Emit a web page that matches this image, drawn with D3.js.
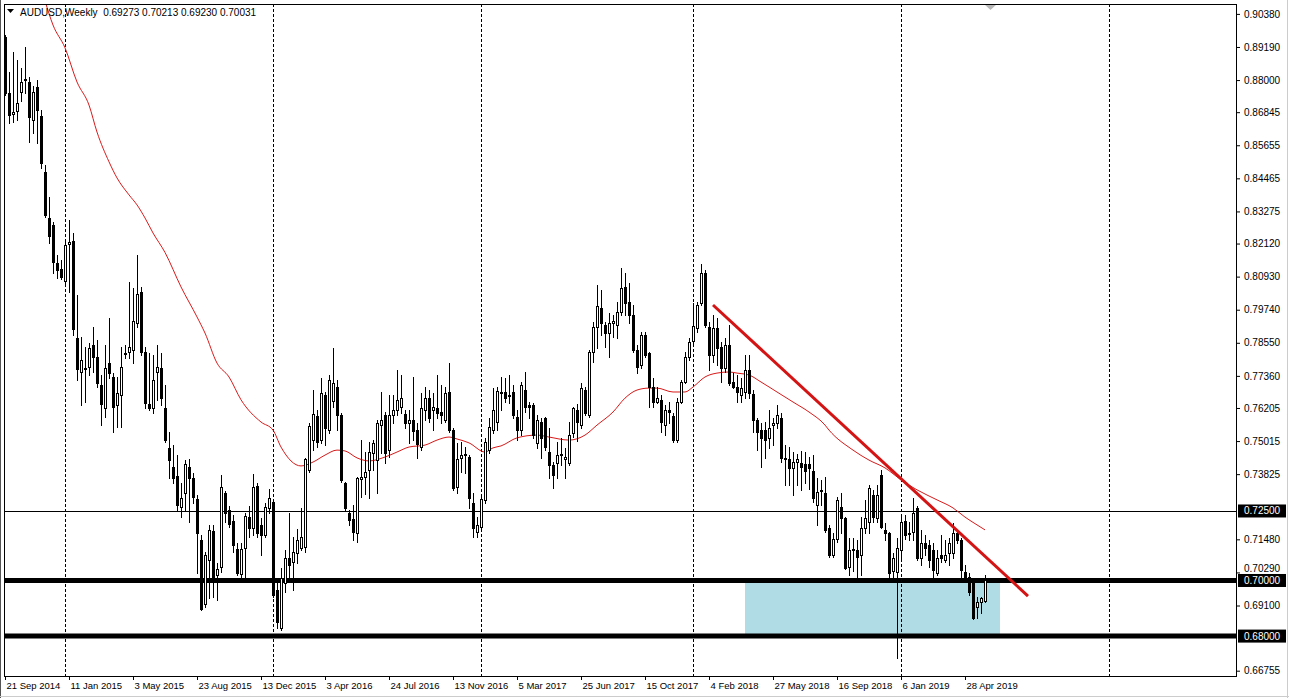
<!DOCTYPE html>
<html><head><meta charset="utf-8">
<script src="https://cdn.jsdelivr.net/npm/d3@7"></script>
<style>
body{margin:0;background:#fff;}
svg{display:block;font-family:"Liberation Sans",Arial,sans-serif;}
</style>
</head><body><svg id="c" width="1289" height="698"></svg>
<script>
// ---------------- DATA ----------------
const symbolName = "AUDUSD,Weekly";
const lastBar = [0.69273, 0.70213, 0.69230, 0.70031];

const opens = [
0.8955,0.8754,0.8677,0.8689,0.8757,0.8800,0.8793,0.8657,0.8775,0.8672,
0.8470,0.8304,0.8279,0.8143,0.8121,0.8078,0.8210,0.8221,0.7872,0.7750,
0.7760,0.7768,0.7847,0.7804,0.7703,0.7620,0.7782,0.7732,0.7631,0.7667,
0.7816,0.7822,0.7829,0.7926,0.8037,0.7822,0.7635,0.7620,0.7750,0.7764,
0.7620,0.7476,0.7408,0.7376,0.7265,0.7315,0.7408,0.7369,0.7293,0.7146,
0.6916,0.7074,0.7178,0.7020,0.7049,0.7315,0.7254,0.7214,0.7114,0.7024,
0.7117,0.7229,0.7189,0.7340,0.7200,0.7164,0.7261,0.7283,0.6966,0.6829,
0.6991,0.7081,0.7067,0.7099,0.7117,0.7121,0.7397,0.7505,0.7592,0.7505,
0.7667,0.7541,0.7645,0.7696,0.7595,0.7351,0.7243,0.7222,0.7171,0.7365,
0.7372,0.7397,0.7458,0.7433,0.7559,0.7595,0.7469,0.7595,0.7613,0.7624,
0.7599,0.7567,0.7577,0.7541,0.7480,0.7613,0.7656,0.7613,0.7620,0.7606,
0.7577,0.7678,0.7541,0.7337,0.7441,0.7451,0.7444,0.7279,0.7175,0.7193,
0.7290,0.7469,0.7541,0.7570,0.7674,0.7678,0.7663,0.7678,0.7588,0.7541,
0.7685,0.7631,0.7631,0.7494,0.7570,0.7584,0.7462,0.7415,0.7423,0.7455,
0.7437,0.7422,0.7530,0.7613,0.7560,0.7685,0.7595,0.7822,0.7912,0.7980,
0.7919,0.7890,0.7926,0.7919,0.7966,0.8056,0.8002,0.7955,0.7829,0.7775,
0.7883,0.7818,0.7696,0.7642,0.7649,0.7559,0.7613,0.7592,0.7505,0.7642,
0.7714,0.7804,0.7862,0.7908,0.7998,0.8106,0.7912,0.7811,0.7908,0.7840,
0.7764,0.7847,0.7714,0.7696,0.7667,0.7678,0.7757,0.7671,0.7577,0.7541,
0.7541,0.7512,0.7559,0.7566,0.7584,0.7441,0.7437,0.7405,0.7426,0.7423,
0.7419,0.7419,0.7394,0.7272,0.7322,0.7315,0.7189,0.7092,0.7150,0.7265,
0.7225,0.7049,0.7110,0.7110,0.7092,0.7189,0.7211,0.7308,0.7225,0.7380,
0.7182,0.7171,0.7035,0.7031,0.7110,0.7215,0.7168,0.7175,0.7261,0.7081,
0.7135,0.7128,0.7110,0.7027,0.7092,0.7074,0.7099,0.7099,0.7171,0.7146,
0.7031,0.7013,0.6995,0.6905,0.6923,0.69273];

const highs = [
0.8962,0.8829,0.8901,0.8873,0.8843,0.8919,0.8811,0.8779,0.8800,0.8692,
0.8495,0.8380,0.8289,0.8171,0.8153,0.8217,0.8297,0.8250,0.8027,0.7876,
0.7840,0.7854,0.7912,0.7865,0.7739,0.7847,0.7944,0.7746,0.7732,0.7840,
0.7847,0.8074,0.8052,0.8171,0.8056,0.7840,0.7818,0.7811,0.7847,0.7818,
0.7703,0.7534,0.7487,0.7451,0.7351,0.7433,0.7437,0.7387,0.7308,0.7164,
0.7103,0.7200,0.7200,0.7063,0.7380,0.7322,0.7268,0.7236,0.7135,0.7135,
0.7243,0.7268,0.7383,0.7351,0.7225,0.7279,0.7329,0.7290,0.7002,0.7045,
0.7110,0.7243,0.7157,0.7186,0.7261,0.7441,0.7567,0.7685,0.7613,0.7728,
0.7678,0.7739,0.7836,0.7721,0.7602,0.7355,0.7254,0.7272,0.7372,0.7505,
0.7462,0.7498,0.7505,0.7577,0.7678,0.7606,0.7667,0.7667,0.7757,0.7739,
0.7613,0.7613,0.7732,0.7567,0.7674,0.7696,0.7685,0.7674,0.7739,0.7703,
0.7696,0.7782,0.7548,0.7494,0.7498,0.7480,0.7451,0.7315,0.7229,0.7300,
0.7512,0.7584,0.7692,0.7696,0.7732,0.7728,0.7740,0.7703,0.7613,0.7714,
0.7750,0.7642,0.7638,0.7595,0.7584,0.7588,0.7548,0.7426,0.7498,0.7512,
0.7476,0.7570,0.7624,0.7635,0.7710,0.7696,0.7829,0.7930,0.8063,0.8045,
0.7930,0.7962,0.7955,0.8002,0.8124,0.8106,0.8070,0.7991,0.7847,0.7894,
0.7894,0.7822,0.7728,0.7696,0.7667,0.7631,0.7642,0.7602,0.7656,0.7721,
0.7822,0.7872,0.7998,0.8002,0.8139,0.8117,0.7930,0.7955,0.7944,0.7858,
0.7872,0.7919,0.7746,0.7739,0.7728,0.7811,0.7811,0.7685,0.7584,0.7566,
0.7570,0.7613,0.7584,0.7631,0.7602,0.7487,0.7480,0.7462,0.7455,0.7466,
0.7462,0.7444,0.7451,0.7369,0.7362,0.7372,0.7200,0.7170,0.7300,0.7315,
0.7230,0.7153,0.7153,0.7146,0.7229,0.7290,0.7344,0.7326,0.7344,0.7398,
0.7207,0.7175,0.7100,0.7153,0.7229,0.7235,0.7211,0.7297,0.7268,0.7182,
0.7164,0.7146,0.7135,0.7110,0.7164,0.7146,0.7153,0.7207,0.7182,0.7153,
0.7056,0.7027,0.7000,0.6941,0.6941,0.70213];

const lows = [
0.8747,0.8646,0.8650,0.8657,0.8725,0.8754,0.8577,0.8610,0.8574,0.8484,
0.8308,0.8214,0.8106,0.8089,0.8085,0.8071,0.8038,0.7883,0.7721,0.7631,
0.7642,0.7739,0.7750,0.7696,0.7559,0.7588,0.7728,0.7534,0.7552,0.7552,
0.7801,0.7801,0.7782,0.7912,0.7811,0.7620,0.7613,0.7602,0.7649,0.7631,
0.7498,0.7369,0.7351,0.7254,0.7229,0.7254,0.7211,0.7279,0.7027,0.6894,
0.6905,0.6937,0.6941,0.6930,0.7031,0.7211,0.7193,0.7103,0.7020,0.7009,
0.7013,0.7157,0.7164,0.7157,0.7092,0.7157,0.7243,0.6941,0.6829,0.6822,
0.6959,0.7002,0.6966,0.7063,0.7110,0.7103,0.7390,0.7469,0.7480,0.7494,
0.7487,0.7530,0.7624,0.7541,0.7355,0.7254,0.7200,0.7146,0.7139,0.7300,
0.7311,0.7297,0.7397,0.7315,0.7458,0.7423,0.7444,0.7567,0.7595,0.7602,
0.7548,0.7494,0.7506,0.7440,0.7469,0.7577,0.7570,0.7541,0.7584,0.7567,
0.7570,0.7534,0.7326,0.7315,0.7390,0.7387,0.7261,0.7157,0.7157,0.7182,
0.7279,0.7458,0.7530,0.7541,0.7613,0.7642,0.7640,0.7584,0.7506,0.7523,
0.7606,0.7584,0.7512,0.7476,0.7441,0.7469,0.7369,0.7333,0.7369,0.7415,
0.7369,0.7415,0.7516,0.7500,0.7549,0.7595,0.7588,0.7786,0.7836,0.7883,
0.7840,0.7804,0.7876,0.7872,0.7955,0.7955,0.7926,0.7822,0.7746,0.7764,
0.7804,0.7624,0.7624,0.7638,0.7534,0.7523,0.7566,0.7498,0.7498,0.7638,
0.7710,0.7793,0.7854,0.7894,0.7991,0.7912,0.7757,0.7786,0.7775,0.7714,
0.7750,0.7703,0.7692,0.7642,0.7642,0.7656,0.7656,0.7534,0.7469,0.7408,
0.7441,0.7476,0.7487,0.7548,0.7426,0.7344,0.7344,0.7308,0.7344,0.7326,
0.7351,0.7330,0.7283,0.7200,0.7272,0.7175,0.7085,0.7085,0.7140,0.7171,
0.7040,0.7020,0.7034,0.7013,0.7020,0.7171,0.7171,0.7211,0.7211,0.7189,
0.7146,0.7013,0.7013,0.6721,0.7074,0.7150,0.7146,0.7146,0.7074,0.7056,
0.7092,0.7049,0.7002,0.7020,0.7067,0.7067,0.7056,0.7081,0.7135,0.7009,
0.6995,0.6948,0.6862,0.6865,0.6883,0.69230];

const closes = [
0.8754,0.8675,0.8685,0.8718,0.8793,0.8804,0.8667,0.8757,0.8693,0.8502,
0.8315,0.8239,0.8146,0.8117,0.8092,0.8207,0.8217,0.7905,0.7761,0.7793,
0.7764,0.7836,0.7804,0.7710,0.7635,0.7764,0.7746,0.7624,0.7674,0.7768,
0.7820,0.7840,0.7933,0.8030,0.7822,0.7638,0.7620,0.7721,0.7768,0.7656,
0.7505,0.7433,0.7369,0.7272,0.7297,0.7419,0.7369,0.7300,0.7171,0.6898,
0.7092,0.7182,0.7013,0.7042,0.7337,0.7243,0.7204,0.7128,0.7027,0.7114,
0.7232,0.7189,0.7337,0.7171,0.7164,0.7265,0.7297,0.6948,0.6851,0.7009,
0.7081,0.7056,0.7103,0.7146,0.7157,0.7437,0.7556,0.7599,0.7498,0.7674,
0.7548,0.7721,0.7710,0.7595,0.7362,0.7261,0.7218,0.7175,0.7369,0.7372,
0.7390,0.7462,0.7494,0.7566,0.7577,0.7458,0.7595,0.7613,0.7649,0.7656,
0.7567,0.7577,0.7538,0.7491,0.7620,0.7656,0.7584,0.7624,0.7602,0.7595,
0.7674,0.7541,0.7333,0.7437,0.7451,0.7455,0.7297,0.7189,0.7200,0.7293,
0.7498,0.7552,0.7613,0.7680,0.7678,0.7656,0.7667,0.7595,0.7541,0.7703,
0.7624,0.7624,0.7523,0.7577,0.7512,0.7480,0.7415,0.7380,0.7451,0.7451,
0.7444,0.7523,0.7620,0.7570,0.7692,0.7602,0.7822,0.7912,0.7987,0.7926,
0.7890,0.7926,0.7933,0.7966,0.8052,0.7998,0.7955,0.7829,0.7768,0.7883,
0.7811,0.7696,0.7642,0.7656,0.7570,0.7613,0.7606,0.7505,0.7642,0.7714,
0.7804,0.7858,0.7916,0.7991,0.8106,0.7919,0.7811,0.7908,0.7836,0.7764,
0.7847,0.7710,0.7696,0.7678,0.7692,0.7757,0.7674,0.7577,0.7534,0.7512,
0.7505,0.7548,0.7566,0.7595,0.7441,0.7437,0.7405,0.7426,0.7437,0.7408,
0.7394,0.7405,0.7297,0.7319,0.7326,0.7182,0.7092,0.7150,0.7290,0.7225,
0.7045,0.7110,0.7114,0.7085,0.7189,0.7225,0.7333,0.7229,0.7308,0.7193,
0.7171,0.7027,0.7080,0.7117,0.7211,0.7165,0.7172,0.7243,0.7081,0.7135,
0.7117,0.7074,0.7038,0.7081,0.7081,0.7092,0.7135,0.7171,0.7146,0.7038,
0.7013,0.6959,0.6865,0.6923,0.6937,0.70031];

// moving average (red line), read at selected bars
const maIndex = [10,12,15,18,21,23,26,28,31,33,35,37,40,44,48,50,53,56,59,64,
67,69,74,77,80,83,85,88,91,95,98,101,105,108,111,113,116,120,122,124,
128,133,136,141,145,148,152,155,158,161,163,167,170,172,175,178,181,183,186,189,
193,197,201,205,206,212,216,220,224,228,233,237,240,243,245];
const maValues = [0.9085,0.8998,0.8916,0.8793,0.8710,0.8613,0.8506,0.8448,0.8387,0.8351,
0.8304,0.8250,0.8180,0.8056,0.7948,0.7890,0.7782,0.7732,0.7650,0.7570,
0.7541,0.7480,0.7412,0.7426,0.7451,0.7469,0.7466,0.7441,0.7430,0.7444,
0.7462,0.7480,0.7487,0.7505,0.7516,0.7509,0.7495,0.7462,0.7477,0.7484,
0.7513,0.7523,0.7516,0.7505,0.7523,0.7559,0.7606,0.7656,0.7685,0.7692,
0.7692,0.7678,0.7678,0.7696,0.7732,0.7746,0.7750,0.7746,0.7739,0.7714,
0.7678,0.7642,0.7606,0.7559,0.7541,0.7469,0.7433,0.7405,0.7362,0.7326,
0.7290,0.7261,0.7228,0.7200,0.7182];

const dateLabels = ["21 Sep 2014","11 Jan 2015","3 May 2015","23 Aug 2015","13 Dec 2015",
"3 Apr 2016","24 Jul 2016","13 Nov 2016","5 Mar 2017","25 Jun 2017","15 Oct 2017",
"4 Feb 2018","27 May 2018","16 Sep 2018","6 Jan 2019","28 Apr 2019"];
const dateLabelIndex = [0,16,32,48,64,80,96,112,128,144,160,176,192,208,224,240];

const priceTicks = [0.90380,0.89190,0.88000,0.86845,0.85655,0.84465,0.83275,0.82120,
0.80930,0.79740,0.78550,0.77360,0.76205,0.75015,0.73825,0.71480,0.70290,0.69100,0.66755];
const markedLevels = [0.72500, 0.70000, 0.68000];
const heavyLevels = [0.70000, 0.68000];

const yearSeparatorIndex = [15, 67, 119, 172, 224, 276];
const zoneIndex = [185, 248.75];
const zonePrices = [0.68, 0.70];
const trendIndex = [177, 255.75];
const trendPrices = [0.7991, 0.6944];

// ---------------- DRAW ----------------
const W = 1289, H = 698, L = 4, R = 1236, T = 4, B = 676;
const svg = d3.select("#c");
const x = d3.scaleLinear().domain([0, 240]).range([5, 965]);
const y = d3.scaleLinear().domain([0.66755, 0.90380]).range([670.7, 13.9]);
const px = v => Math.round(x(v));
const py = v => Math.round(y(v));

svg.append("rect").attr("width", W).attr("height", H).attr("fill", "#fff");
svg.append("defs").append("clipPath").attr("id", "clip")
  .append("rect").attr("x", L).attr("y", T).attr("width", R - L).attr("height", B - T);
const plot = svg.append("g").attr("clip-path", "url(#clip)");

// highlighted zone
plot.append("rect")
  .attr("x", x(zoneIndex[0])).attr("width", x(zoneIndex[1]) - x(zoneIndex[0]))
  .attr("y", y(zonePrices[1])).attr("height", y(zonePrices[0]) - y(zonePrices[1]))
  .attr("fill", "#b0dde5");

// year separators
plot.selectAll("line.sep").data(yearSeparatorIndex).join("line")
  .attr("class", "sep")
  .attr("x1", d => px(d) + 0.5).attr("x2", d => px(d) + 0.5)
  .attr("y1", T).attr("y2", B)
  .attr("stroke", "#000").attr("stroke-width", 1).attr("stroke-dasharray", "3,2");

// horizontal levels
plot.selectAll("line.lvl").data(markedLevels).join("line")
  .attr("class", "lvl")
  .attr("x1", L).attr("x2", R)
  .attr("y1", d => heavyLevels.includes(d) ? y(d) : py(d) + 0.5)
  .attr("y2", d => heavyLevels.includes(d) ? y(d) : py(d) + 0.5)
  .attr("stroke", "#000")
  .attr("stroke-width", d => heavyLevels.includes(d) ? 5 : 1);

// moving average
const maPts = maIndex.map((d, i) => [d, maValues[i]]);
plot.append("path")
  .attr("d", d3.line().x(d => x(d[0])).y(d => y(d[1])).curve(d3.curveMonotoneX)(maPts))
  .attr("fill", "none").attr("stroke", "#d81a1a").attr("stroke-width", 1);

// candles
const bars = opens.map((o, i) => ({ i, o, h: highs[i], l: lows[i], c: closes[i] }));
const cg = plot.append("g");
bars.forEach(b => {
  const cx = px(b.i);
  const hi = Math.max(b.h, b.o, b.c), lo = Math.min(b.l, b.o, b.c);
  cg.append("line")
    .attr("x1", cx + 0.5).attr("x2", cx + 0.5)
    .attr("y1", py(hi)).attr("y2", py(lo) + 1)
    .attr("stroke", "#000").attr("stroke-width", 1);
  const yo = py(b.o), yc = py(b.c);
  if (b.c >= b.o) {
    const top = yc, bot = yo;
    if (bot - top < 2) {
      cg.append("rect").attr("x", cx - 1).attr("y", top).attr("width", 3)
        .attr("height", Math.max(1, bot - top + 1)).attr("fill", "#000");
    } else {
      cg.append("rect").attr("x", cx - 0.5).attr("y", top + 0.5)
        .attr("width", 2).attr("height", bot - top)
        .attr("fill", "#fff").attr("stroke", "#000").attr("stroke-width", 1);
    }
  } else {
    cg.append("rect").attr("x", cx - 1).attr("y", yo).attr("width", 3)
      .attr("height", Math.max(1, yc - yo + 1)).attr("fill", "#000");
  }
});

// trend line
plot.append("line")
  .attr("x1", x(trendIndex[0])).attr("y1", y(trendPrices[0]))
  .attr("x2", x(trendIndex[1])).attr("y2", y(trendPrices[1]))
  .attr("stroke", "#d41414").attr("stroke-width", 3).attr("stroke-linecap", "butt");

// chart-shift marker
svg.append("path").attr("d", d3.line()([[984, 4], [997, 4], [990.5, 10]]) + "Z").attr("fill", "#b8b8b8");

// frame
svg.append("rect").attr("x", L + 0.5).attr("y", T + 0.5).attr("width", R - L).attr("height", B - T)
  .attr("fill", "none").attr("stroke", "#000").attr("stroke-width", 1);

// header
svg.append("path").attr("d", d3.line()([[7, 9], [14, 9], [10.5, 13]]) + "Z").attr("fill", "#000");
svg.append("text").attr("x", 20).attr("y", 16).attr("font-size", 10).attr("fill", "#000")
  .style("white-space", "pre")
  .text(symbolName + "  " + lastBar.map(v => v.toFixed(5)).join(" "));

// right axis
const ra = svg.append("g").attr("transform", `translate(${R},0)`)
  .call(d3.axisRight(y).tickValues(priceTicks).tickFormat(d3.format(".5f")).tickSize(4).tickPadding(4));
ra.select(".domain").remove();
ra.selectAll("text").attr("font-size", 10).attr("font-family", "Liberation Sans, Arial, sans-serif").attr("fill", "#000");
ra.selectAll("line").attr("stroke", "#000");
// label just above a marked level is nudged up so both stay readable
ra.selectAll(".tick").filter(d => markedLevels.some(m => Math.abs(y(m) - y(d)) < 11))
  .select("text").attr("dy", "-0.05em");

// marked level labels
const ml = svg.append("g");
markedLevels.forEach(v => {
  ml.append("rect").attr("x", R + 2).attr("y", y(v) - 6.5).attr("width", 48).attr("height", 13).attr("fill", "#000");
  ml.append("text").attr("x", R + 8).attr("y", y(v) + 3.5).attr("font-size", 10)
    .attr("fill", "#fff").text(d3.format(".5f")(v));
});

// bottom axis
const ba = svg.append("g").attr("transform", `translate(0,${B})`)
  .call(d3.axisBottom(x).tickValues(dateLabelIndex).tickFormat((d, i) => dateLabels[i]).tickSize(4).tickPadding(2));
ba.select(".domain").remove();
ba.selectAll("text").attr("font-size", 9.5).attr("font-family", "Liberation Sans, Arial, sans-serif")
  .attr("fill", "#000").attr("text-anchor", "start").attr("dx", 1);
ba.selectAll("line").attr("stroke", "#000");

// outer window edges
svg.append("line").attr("x1", 0.5).attr("x2", 0.5).attr("y1", 0).attr("y2", H).attr("stroke", "#555");
svg.append("line").attr("x1", 1287.5).attr("x2", 1287.5).attr("y1", 0).attr("y2", H).attr("stroke", "#ccc");
svg.append("line").attr("x1", 0).attr("x2", W).attr("y1", 696.5).attr("y2", 696.5).attr("stroke", "#ccc");
</script>
</body></html>
